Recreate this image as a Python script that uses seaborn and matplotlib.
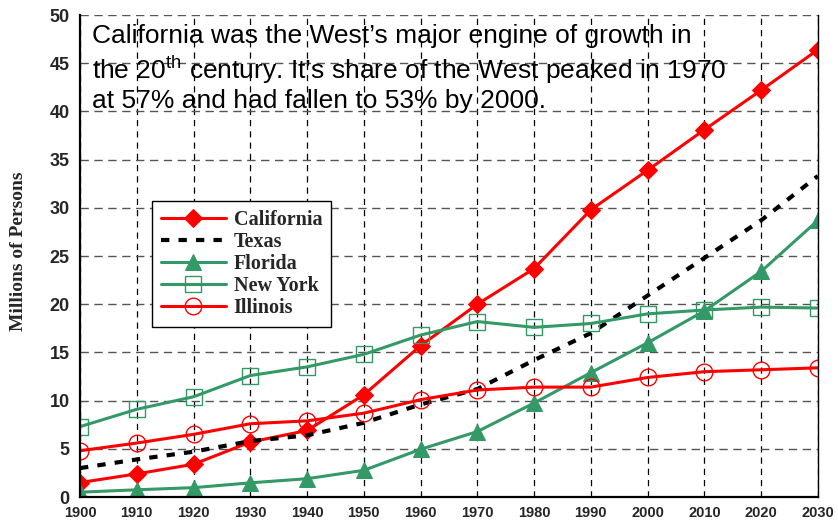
import matplotlib
matplotlib.use("Agg")
import matplotlib.pyplot as plt
import seaborn as sns
import pandas as pd

years = [1900, 1910, 1920, 1930, 1940, 1950, 1960, 1970, 1980, 1990, 2000, 2010, 2020, 2030]
california = [1.5, 2.4, 3.4, 5.7, 6.9, 10.6, 15.7, 20.0, 23.7, 29.8, 33.9, 38.1, 42.2, 46.4]
texas = [3.0, 3.9, 4.7, 5.8, 6.4, 7.7, 9.6, 11.2, 14.2, 17.0, 20.9, 24.8, 28.7, 33.3]
florida = [0.5, 0.75, 0.97, 1.47, 1.9, 2.77, 4.95, 6.79, 9.75, 12.9, 16.0, 19.3, 23.4, 28.7]
new_york = [7.3, 9.1, 10.4, 12.6, 13.5, 14.8, 16.8, 18.2, 17.6, 18.0, 19.0, 19.4, 19.7, 19.6]
illinois = [4.8, 5.6, 6.5, 7.6, 7.9, 8.7, 10.1, 11.1, 11.4, 11.4, 12.4, 13.0, 13.2, 13.4]
annotation = ("California was the West\u2019s major engine of growth in\n"
              "the 20$^{\\mathrm{th}}$ century. It\u2019s share of the West peaked in 1970\n"
              "at 57% and had fallen to 53% by 2000.")

sns.set_theme(style="white")
plt.rcParams['font.family'] = ['Liberation Sans', 'DejaVu Sans']
plt.rcParams['mathtext.fontset'] = 'custom'
plt.rcParams['mathtext.rm'] = 'Liberation Sans'

RED = "#FF0000"
GREEN = "#339966"

fig = plt.figure(figsize=(8.38, 5.27), dpi=100)
ax = fig.add_axes([0.0955, 0.0569, 0.8805, 0.9146])

df = pd.DataFrame({"year": years, "California": california, "Texas": texas,
                   "Florida": florida, "New York": new_york, "Illinois": illinois})

sns.lineplot(data=df, x="year", y="California", ax=ax, color=RED, lw=2.2,
             marker="D", markersize=9, markeredgecolor=RED, label="California")
sns.lineplot(data=df, x="year", y="Texas", ax=ax, color="black", lw=3,
             dashes=False, label="Texas")
ax.lines[-1].set_dashes([2, 2.2])
sns.lineplot(data=df, x="year", y="Florida", ax=ax, color=GREEN, lw=2.2,
             marker="^", markersize=11, markeredgecolor=GREEN, label="Florida")
sns.lineplot(data=df, x="year", y="New York", ax=ax, color=GREEN, lw=2.2,
             marker="s", markersize=11, markerfacecolor="none",
             markeredgecolor=GREEN, markeredgewidth=1.0, label="New York")
sns.lineplot(data=df, x="year", y="Illinois", ax=ax, color=RED, lw=2.2,
             marker="o", markersize=12, markerfacecolor="none",
             markeredgecolor=RED, markeredgewidth=1.0, label="Illinois")

ax.set_xlim(1900, 2030)
ax.set_ylim(0, 50)
ax.set_xticks(years)
ax.set_yticks(range(0, 51, 5))
ax.set_xlabel("")
ax.set_ylabel("Millions of Persons", family=["Liberation Serif"], fontweight="bold",
              fontsize=14)
ax.yaxis.set_label_coords(-0.072, 0.51)
for lbl in ax.get_xticklabels():
    lbl.set_fontweight("bold"); lbl.set_fontsize(10.5)
for lbl in ax.get_yticklabels():
    lbl.set_fontweight("bold"); lbl.set_fontsize(13)
ax.tick_params(axis="both", direction="inout", length=7, width=1, color="black", pad=4)
ax.tick_params(axis="x", pad=3)

ax.xaxis.grid(True, color="black", linestyle=(0, (5, 4)), lw=0.9)
ax.yaxis.grid(True, color="#555555", linestyle=(0, (6, 4)), lw=1.0)
ax.set_axisbelow(True)

for s in ["left", "bottom"]:
    ax.spines[s].set_color("black"); ax.spines[s].set_linewidth(1.6)
ax.spines["right"].set_color("black"); ax.spines["right"].set_linewidth(1.0)
ax.spines["top"].set_visible(False)

leg = ax.legend(loc="lower left", bbox_to_anchor=(0.0976, 0.353),
                prop={"family": "Liberation Serif", "weight": "bold", "size": 14.5},
                frameon=True, fancybox=False, edgecolor="black", framealpha=1,
                handlelength=3.2, labelspacing=0.1, borderpad=0.45, handletextpad=0.4,
                borderaxespad=0)
leg.get_frame().set_linewidth(1.0)

ax.text(0.016, 0.982, annotation, transform=ax.transAxes, ha="left", va="top",
        fontsize=19, color="black", linespacing=1.2)

fig.savefig("out.png", dpi=100)
